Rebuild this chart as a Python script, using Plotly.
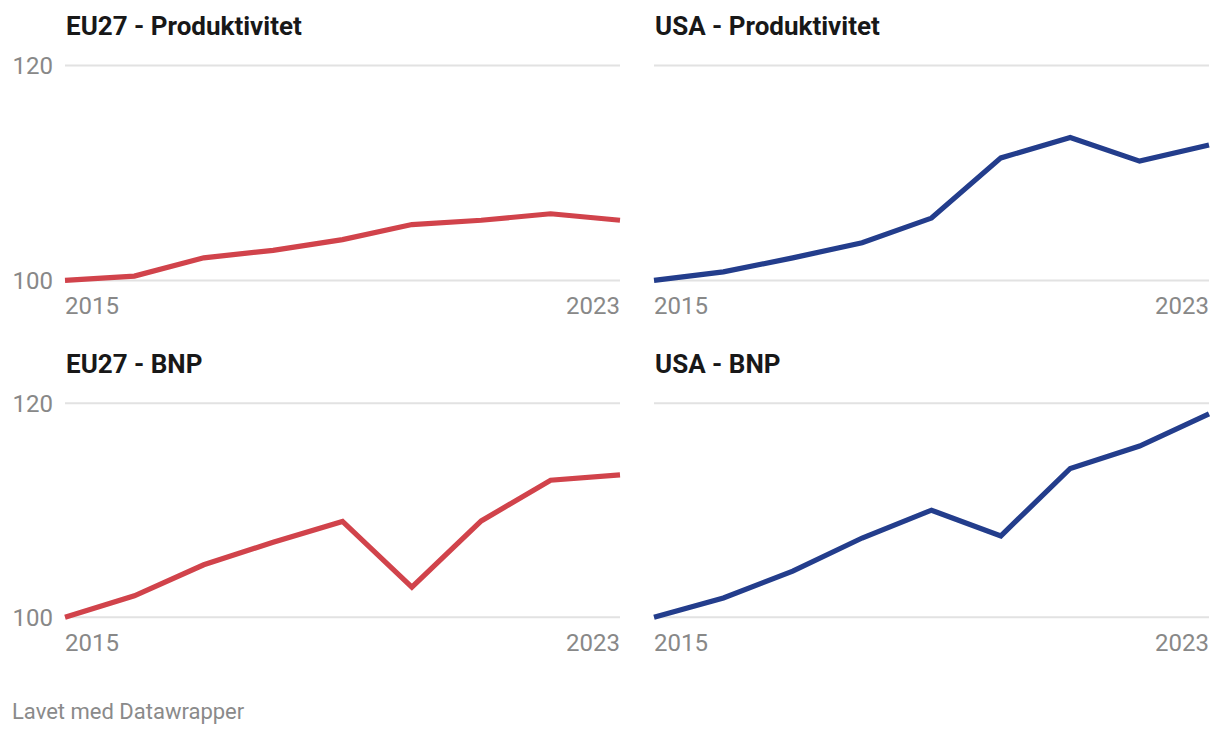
import plotly.graph_objects as go

years = [2015, 2016, 2017, 2018, 2019, 2020, 2021, 2022, 2023]
eu_prod = [100.0, 100.4, 102.1, 102.8, 103.8, 105.2, 105.6, 106.2, 105.6]
usa_prod = [100.0, 100.8, 102.1, 103.5, 105.8, 111.4, 113.3, 111.1, 112.6]
eu_bnp = [100.0, 102.0, 104.9, 107.0, 108.95, 102.8, 109.0, 112.8, 113.3]
usa_bnp = [100.0, 101.8, 104.3, 107.4, 110.0, 107.6, 113.9, 116.0, 119.0]

titles = ["EU27 - Produktivitet", "USA - Produktivitet", "EU27 - BNP", "USA - BNP"]
series = [eu_prod, usa_prod, eu_bnp, usa_bnp]
y_ticks = [100, 120]
x_labels = ["2015", "2023"]

RED = "#d1434b"
BLUE = "#233d8c"
colors = [RED, BLUE, RED, BLUE]

W, H = 1220, 736
OFF = 8  # page body margin compensation
x_boxes = [(65, 620), (654, 1209)]
y_boxes = [(63, 280), (404, 620)]

XPAD = 0.1  # years
YPAD = 1.0  # units

fig = go.Figure()
font_fam = "Roboto, 'Open Sans', sans-serif"
GREY = "#888888"

for i in range(4):
    col = i % 2
    row = i // 2
    xl, xr = x_boxes[col]
    yt, yb = y_boxes[row]
    xl -= OFF; xr -= OFF; yt -= OFF; yb -= OFF
    pxy = (xr - xl) / (years[-1] - years[0])
    pyu = (yb - yt) / (y_ticks[1] - y_ticks[0])
    d_x0 = (xl - XPAD * pxy) / W
    d_x1 = (xr + XPAD * pxy) / W
    d_y0 = 1 - (yb + YPAD * pyu) / H
    d_y1 = 1 - (yt - YPAD * pyu) / H
    n = i + 1
    xa = "x" if n == 1 else f"x{n}"
    ya = "y" if n == 1 else f"y{n}"
    xkey = "xaxis" if n == 1 else f"xaxis{n}"
    ykey = "yaxis" if n == 1 else f"yaxis{n}"

    for t in y_ticks:
        fig.add_shape(type="line", xref=xa, yref=ya, x0=years[0], x1=years[-1], y0=t, y1=t,
                      line=dict(color="#e2e2e2", width=2), layer="below")

    fig.add_trace(go.Scatter(x=years, y=series[i], mode="lines", xaxis=xa, yaxis=ya,
                             line=dict(color=colors[i], width=5.2, shape="linear"),
                             hoverinfo="x+y", showlegend=False))

    fig.layout[xkey] = dict(domain=[d_x0, d_x1], range=[years[0] - XPAD, years[-1] + XPAD],
                            showgrid=False, zeroline=False, showticklabels=False, showline=False,
                            fixedrange=True, anchor=ya)
    fig.layout[ykey] = dict(domain=[d_y0, d_y1], range=[y_ticks[0] - YPAD, y_ticks[1] + YPAD],
                            showgrid=False, zeroline=False, showline=False,
                            tickvals=y_ticks, ticktext=[str(t) for t in y_ticks],
                            showticklabels=(col == 0), ticks="", ticklabelstandoff=4,
                            tickfont=dict(family=font_fam, size=24, color=GREY),
                            fixedrange=True, anchor=xa)

    fig.add_annotation(x=years[0], y=y_ticks[0], xref=xa, yref=ya, text=x_labels[0],
                       showarrow=False, xanchor="left", yanchor="middle", yshift=-26, xshift=-2,
                       font=dict(family=font_fam, size=24, color=GREY))
    fig.add_annotation(x=years[-1], y=y_ticks[0], xref=xa, yref=ya, text=x_labels[1],
                       showarrow=False, xanchor="right", yanchor="middle", yshift=-26, xshift=2,
                       font=dict(family=font_fam, size=24, color=GREY))
    fig.add_annotation(x=(xl - 1) / W, y=1 - (yt - 40) / H, xref="paper", yref="paper",
                       text=f"<b>{titles[i]}</b>", showarrow=False, xanchor="left", yanchor="middle",
                       font=dict(family=font_fam, size=26, color="#181818"))

fig.add_annotation(x=(10 - OFF) / W, y=1 - (715 - OFF) / H, xref="paper", yref="paper",
                   text="Lavet med Datawrapper",
                   showarrow=False, xanchor="left", yanchor="middle",
                   font=dict(family=font_fam, size=22, color="#8a8a8a"))

fig.update_layout(width=W, height=H, margin=dict(l=0, r=0, t=0, b=0),
                  paper_bgcolor="white", plot_bgcolor="white", showlegend=False)

fig.write_html("out.html")
